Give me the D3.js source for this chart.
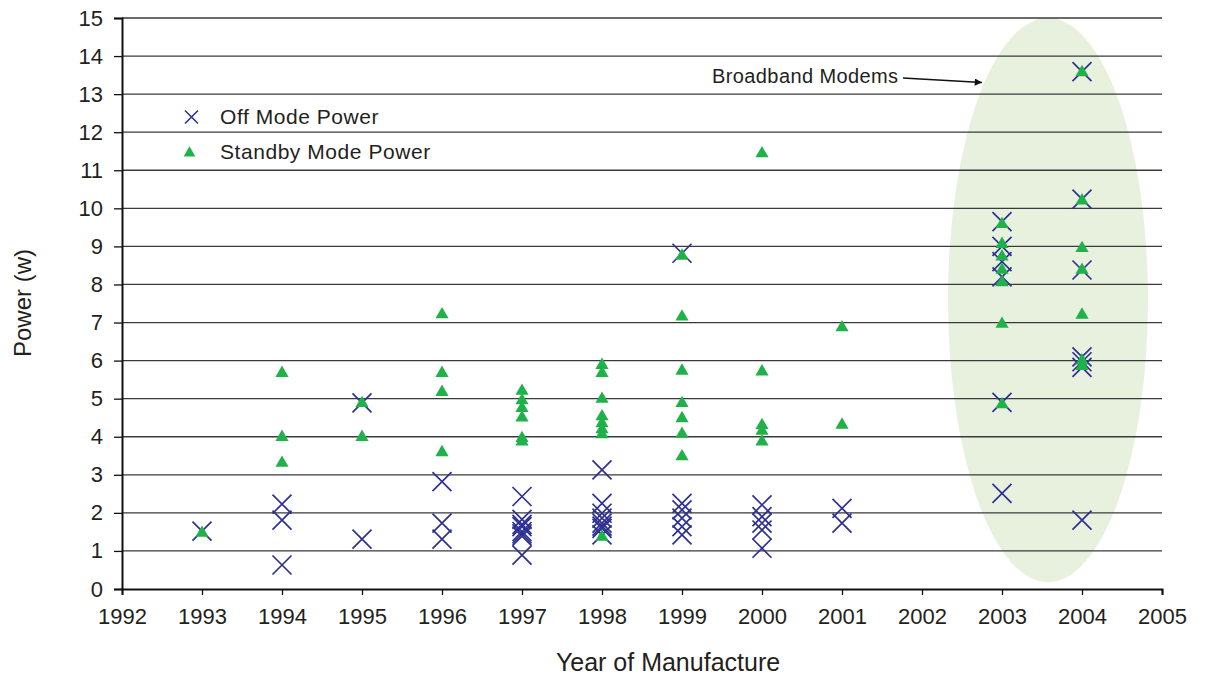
<!DOCTYPE html>
<html><head><meta charset="utf-8">
<script src="https://cdn.jsdelivr.net/npm/d3@7"></script>
<style>body{margin:0;background:#fff}svg{display:block}text{font-family:"Liberation Sans",Arial,sans-serif}</style>
</head><body><svg id="c" width="1205" height="675"></svg>
<script>
const xTicks = [1992,1993,1994,1995,1996,1997,1998,1999,2000,2001,2002,2003,2004,2005];
const yTicks = [0,1,2,3,4,5,6,7,8,9,10,11,12,13,14,15];
const offYear = [1993,1994,1994,1994,1995,1995,1996,1996,1996,
  1997,1997,1997,1997,1997,1997,1997,1997,
  1998,1998,1998,1998,1998,1998,1998,1998,
  1999,1999,1999,1999,1999,1999,
  2000,2000,2000,2000,2000,2001,2001,
  2003,2003,2003,2003,2003,2003,
  2004,2004,2004,2004,2004,2004,2004];
const offValue = [1.52,2.23,1.81,0.63,4.89,1.31,2.82,1.73,1.31,
  2.43,1.83,1.7,1.64,1.51,1.45,1.39,0.89,
  3.13,2.25,1.99,1.86,1.73,1.65,1.59,1.42,
  8.82,2.25,2.08,1.86,1.64,1.42,
  2.21,1.9,1.73,1.55,1.07,2.12,1.73,
  9.65,9.0,8.6,8.2,4.9,2.51,
  13.59,10.24,8.38,6.1,5.97,5.82,1.81];
const standbyYear = [1993,1994,1994,1994,1995,1995,1996,1996,1996,1996,
  1997,1997,1997,1997,1997,1997,
  1998,1998,1998,1998,1998,1998,1998,1998,
  1999,1999,1999,1999,1999,1999,1999,
  2000,2000,2000,2000,2000,2001,2001,
  2003,2003,2003,2003,2003,2003,2003,
  2004,2004,2004,2004,2004,2004,2004];
const standbyValue = [1.47,5.67,3.99,3.31,4.88,3.99,7.21,5.67,5.17,3.59,
  5.2,4.95,4.75,4.5,3.96,3.87,
  5.88,5.67,4.99,4.53,4.35,4.19,4.06,1.37,
  8.75,7.15,5.73,4.88,4.48,4.07,3.48,
  11.44,5.71,4.3,4.15,3.87,6.87,4.31,
  9.58,9.06,8.73,8.38,8.05,6.96,4.85,
  13.57,10.2,8.95,8.38,7.2,6.0,5.85];
const seriesNames = ["Off Mode Power","Standby Mode Power"];
const annotationText = "Broadband Modems";
const highlight = {year:2003.575, value:7.59, rYear:1.25, rValue:7.41};

const svg = d3.select("#c");
const L=122,R=1162,T=18,B=589;
const x = d3.scaleLinear().domain([1992,2005]).range([L,R]);
const y = d3.scaleLinear().domain([0,15]).range([B,T]);
const blue="#2e3192", green="#21b14b", ink="#231f20";
const FF="'Liberation Sans',Arial,sans-serif";

// ellipse
svg.append("ellipse")
  .attr("cx",x(highlight.year)).attr("cy",y(highlight.value))
  .attr("rx",x(highlight.year+highlight.rYear)-x(highlight.year))
  .attr("ry",y(highlight.value)-y(highlight.value+highlight.rValue))
  .attr("fill","#e8f1de");

// grid
svg.append("g").selectAll("line").data(yTicks.filter(d=>d>0)).join("line")
  .attr("x1",L).attr("x2",R).attr("y1",d=>y(d)).attr("y2",d=>y(d))
  .attr("stroke","#3a3a3a").attr("stroke-width",1.3);

// axes
const gx = svg.append("g").attr("transform",`translate(0,${B})`)
  .call(d3.axisBottom(x).tickValues(xTicks).tickFormat(d3.format("d")).tickSize(6).tickPadding(13));
const gy = svg.append("g").attr("transform",`translate(${L},0)`)
  .call(d3.axisLeft(y).tickValues(yTicks).tickSize(8).tickPadding(11));
[gx,gy].forEach(g=>{
  g.attr("font-size",null).attr("font-family",null);
  g.select(".domain").attr("stroke","#111").attr("stroke-width",2);
  g.selectAll(".tick line").attr("stroke","#111").attr("stroke-width",1.3);
  g.selectAll(".tick text").attr("fill",ink).style("font-size","22px").style("font-family",FF);
});

// markers
const cross = (s)=>`M${-s},${-s}L${s},${s}M${-s},${s}L${s},${-s}`;
svg.append("g").selectAll("path").data(offYear.map((d,i)=>[d,offValue[i]])).join("path")
  .attr("transform",d=>`translate(${x(d[0])},${y(d[1])})`)
  .attr("d",cross(9.5)).attr("fill","none").attr("stroke",blue).attr("stroke-width",1.7);
const tri = d3.symbol().type(d3.symbolTriangle).size(75);
svg.append("g").selectAll("path").data(standbyYear.map((d,i)=>[d,standbyValue[i]])).join("path")
  .attr("transform",d=>`translate(${x(d[0])},${y(d[1])})`)
  .attr("d",tri()).attr("fill",green);

// legend
svg.append("path").attr("transform","translate(191.5,117)").attr("d",cross(6.5))
  .attr("fill","none").attr("stroke",blue).attr("stroke-width",1.6);
svg.append("text").attr("x",220).attr("y",124).text(seriesNames[0])
  .style("font-size","21px").style("letter-spacing","0.55px").attr("fill",ink);
svg.append("path").attr("transform","translate(189.5,153)").attr("d",d3.symbol().type(d3.symbolTriangle).size(60)()).attr("fill",green);
svg.append("text").attr("x",220).attr("y",159).text(seriesNames[1])
  .style("font-size","21px").style("letter-spacing","0.55px").attr("fill",ink);

// annotation
svg.append("defs").append("marker").attr("id","ah").attr("viewBox","0 0 10 10")
  .attr("refX",10).attr("refY",5).attr("markerWidth",7).attr("markerHeight",4.5).attr("orient","auto")
  .append("path").attr("d","M0,0L10,5L0,10z").attr("fill","#111");
svg.append("text").attr("x",712).attr("y",83).text(annotationText)
  .style("font-size","20px").style("letter-spacing","0.4px").attr("fill",ink);
svg.append("line").attr("x1",903).attr("y1",78).attr("x2",982).attr("y2",82.5)
  .attr("stroke","#111").attr("stroke-width",1.6).attr("marker-end","url(#ah)");

// axis titles
svg.append("text").attr("x",668).attr("y",671).attr("text-anchor","middle")
  .text("Year of Manufacture").style("font-size","25px").attr("fill",ink);
svg.append("text").attr("transform","translate(31,303) rotate(-90)").attr("text-anchor","middle")
  .text("Power (w)").style("font-size","24px").attr("fill",ink);
</script></body></html>
